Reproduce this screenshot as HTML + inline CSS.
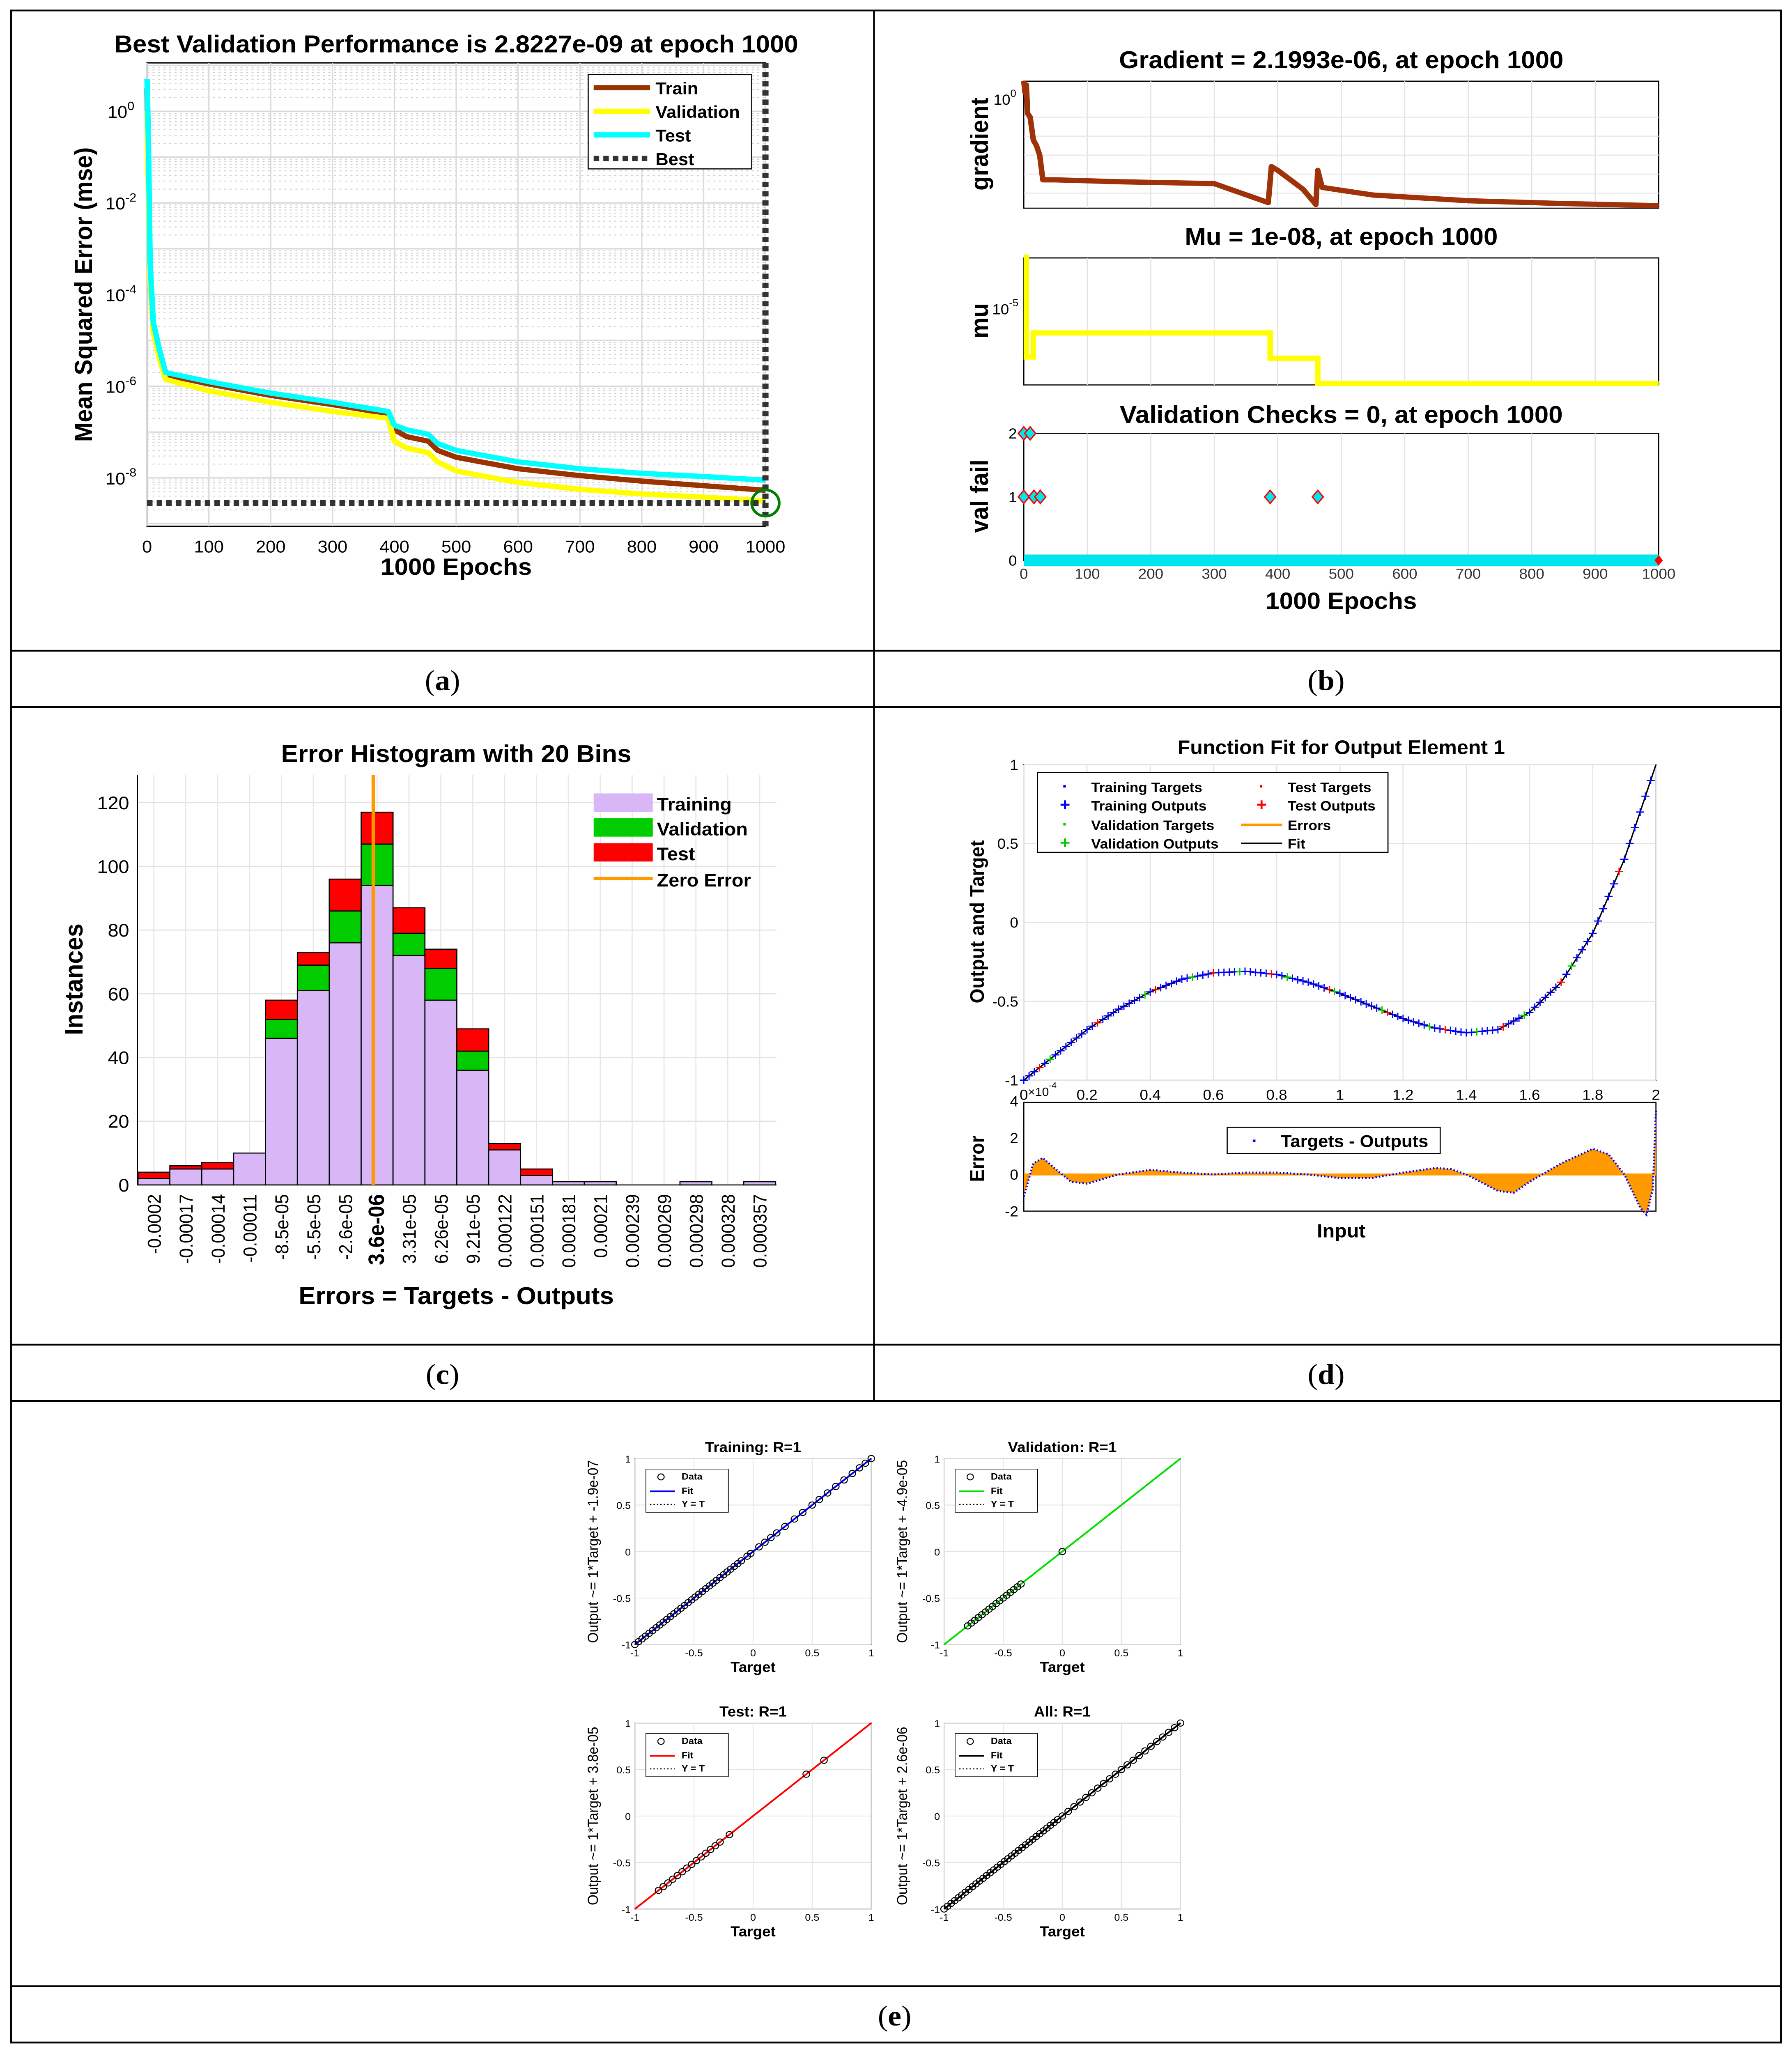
<!DOCTYPE html>
<html><head><meta charset="utf-8">
<style>
html,body{margin:0;padding:0;background:#fff;width:100vw;height:100vh;overflow:hidden;}
svg{display:block;position:absolute;left:0;top:0;width:100vw;height:100vh;font-family:"Liberation Sans",sans-serif;}
</style></head>
<body>
<svg id="root" xmlns="http://www.w3.org/2000/svg" viewBox="0 0 1304 1568" preserveAspectRatio="none">
<rect x="0" y="0" width="1304" height="1568" fill="#fff"/>
<g stroke="#000" stroke-width="1.3" fill="none">
<rect x="8" y="8" width="1288" height="1552"/>
<line x1="8" y1="497" x2="1296" y2="497"/><line x1="8" y1="540" x2="1296" y2="540"/>
<line x1="8" y1="1027" x2="1296" y2="1027"/><line x1="8" y1="1070" x2="1296" y2="1070"/>
<line x1="8" y1="1517" x2="1296" y2="1517"/><line x1="636" y1="8" x2="636" y2="1070"/>
</g>
<g font-family="Liberation Serif,serif" font-size="22" text-anchor="middle">
<text x="322" y="527">(<tspan font-weight="bold">a</tspan>)</text>
<text x="965" y="527">(<tspan font-weight="bold">b</tspan>)</text>
<text x="322" y="1057">(<tspan font-weight="bold">c</tspan>)</text>
<text x="965" y="1057">(<tspan font-weight="bold">d</tspan>)</text>
<text x="651" y="1547">(<tspan font-weight="bold">e</tspan>)</text>
</g>
</svg>
<script>
// ---------- DATA ----------
const perfEpochs = [0,2,5,10,20,30,100,200,300,390,400,420,455,470,500,600,700,800,900,1000];
const trainLog = [0.5,-1,-3.5,-4.7,-5.3,-5.75,-5.95,-6.2,-6.4,-6.6,-6.95,-7.1,-7.2,-7.4,-7.55,-7.8,-7.95,-8.07,-8.17,-8.27];
const valLog   = [0,-1.5,-3.7,-4.8,-5.4,-5.85,-6.1,-6.35,-6.55,-6.7,-7.2,-7.35,-7.45,-7.65,-7.85,-8.1,-8.25,-8.35,-8.42,-8.5];
const testLog  = [0.7,-0.5,-3.3,-4.6,-5.2,-5.7,-5.9,-6.15,-6.35,-6.55,-6.85,-6.95,-7.05,-7.25,-7.4,-7.65,-7.8,-7.9,-7.97,-8.05];
const bestLog = Math.log10(2.8227e-9);
const bestEpoch = 1000;
const gradEpochs = [0,2,4,6,10,15,20,25,30,50,150,300,385,390,400,440,460,463,470,550,700,850,1000];
const gradLog = [0.9,0.3,0.7,-0.8,-1,-2.2,-2.5,-3.0,-4.3,-4.3,-4.4,-4.5,-5.5,-3.6,-3.8,-4.8,-5.6,-3.8,-4.7,-5.1,-5.4,-5.55,-5.66];
const muEpochs = [0,4,4,15,15,388,388,463,463,1000];
const muLog = [-3,-3,-6.95,-6.95,-6,-6,-7,-7,-8,-8];
const failEpochs = [0,10,0,16,26,388,463];
const failVals = [2,2,1,1,1,1,1];
const binLabels = ['-0.0002','-0.00017','-0.00014','-0.00011','-8.5e-05','-5.5e-05','-2.6e-05','3.6e-06','3.31e-05','6.26e-05','9.21e-05','0.000122','0.000151','0.000181','0.00021','0.000239','0.000269','0.000298','0.000328','0.000357'];
const histTrain = [2,5,5,10,46,61,76,94,72,58,36,11,3,1,1,0,0,1,0,1];
const histVal   = [0,0,0,0,6,8,10,13,7,10,6,0,0,0,0,0,0,0,0,0];
const histTest  = [2,1,2,0,6,4,10,10,8,6,7,2,2,0,0,0,0,0,0,0];
const zeroBin = 6.88;
const fitX = [0,0.1,0.2,0.3,0.4,0.5,0.6,0.7,0.8,0.9,1.0,1.1,1.2,1.3,1.4,1.5,1.6,1.7,1.8,1.9,2.0];
const fitY = [-1,-0.84,-0.68,-0.55,-0.44,-0.36,-0.32,-0.31,-0.33,-0.38,-0.45,-0.53,-0.61,-0.67,-0.7,-0.68,-0.57,-0.38,-0.07,0.4,1.0];
const errX = [0,0.03,0.06,0.1,0.15,0.2,0.3,0.4,0.5,0.6,0.7,0.8,0.9,1.0,1.1,1.2,1.3,1.35,1.4,1.5,1.55,1.6,1.7,1.8,1.85,1.9,1.95,1.97,1.99,2.0];
const errY = [-1.2,0.6,0.9,0.3,-0.4,-0.5,0,0.25,0.1,0,0.1,0.1,0,-0.2,-0.2,0.1,0.35,0.3,0,-0.9,-1.0,-0.4,0.6,1.4,1.1,0,-1.8,-2.2,-0.8,3.5];
const trainT = [-1,-0.97,-0.94,-0.91,-0.88,-0.85,-0.82,-0.79,-0.76,-0.73,-0.7,-0.67,-0.64,-0.61,-0.58,-0.55,-0.52,-0.49,-0.46,-0.43,-0.4,-0.37,-0.34,-0.31,-0.28,-0.25,-0.22,-0.19,-0.16,-0.13,-0.1,-0.05,-0.02,0.05,0.1,0.15,0.2,0.27,0.35,0.42,0.5,0.56,0.63,0.7,0.77,0.84,0.9,0.95,1];
const valT = [-0.8,-0.77,-0.74,-0.71,-0.68,-0.65,-0.62,-0.59,-0.56,-0.53,-0.5,-0.47,-0.44,-0.41,-0.38,-0.35,0];
const testT = [-0.8,-0.76,-0.72,-0.68,-0.64,-0.6,-0.56,-0.52,-0.48,-0.44,-0.4,-0.36,-0.32,-0.28,-0.2,0.45,0.6];
const allT = [-1,-0.97,-0.94,-0.91,-0.88,-0.85,-0.82,-0.79,-0.76,-0.73,-0.7,-0.67,-0.64,-0.61,-0.58,-0.55,-0.52,-0.49,-0.46,-0.43,-0.4,-0.37,-0.34,-0.31,-0.28,-0.25,-0.22,-0.19,-0.16,-0.13,-0.1,-0.07,-0.04,0,0.05,0.1,0.15,0.2,0.25,0.3,0.35,0.4,0.45,0.5,0.55,0.6,0.65,0.7,0.75,0.8,0.85,0.9,0.95,1];
const regTicks = [-1,-0.5,0,0.5,1];
const regTickLabels = ['-1','-0.5','0','0.5','1'];

// ---------- HELPERS ----------
const NS='http://www.w3.org/2000/svg';
const root=document.getElementById('root');
function mk(tag,attrs,parent){const e=document.createElementNS(NS,tag);for(const k in attrs)e.setAttribute(k,attrs[k]);(parent||root).appendChild(e);return e;}
function txt(s,attrs,parent){const e=mk('text',attrs,parent);e.textContent=s;return e;}
function sup(base,exp,attrs,parent){const e=mk('text',attrs,parent);const a=mk('tspan',{},e);a.textContent=base;const b=mk('tspan',{dy:-6,'font-size':'0.7em'},e);b.textContent=exp;return e;}
function pts(xs,ys,fx,fy){return xs.map((v,i)=>fx(v).toFixed(2)+','+fy(ys[i]).toFixed(2)).join(' ');}

// ========== PANEL A ==========
const ga=mk('g',{});


const ax=e=>107+e*0.45, ay=l=>85-l*35;
const aBox=mk('rect',{x:107,y:48,width:450,height:354,fill:'#fff',stroke:'#000','stroke-width':1},ga);


for(let d=1;d>=-9;d--){for(let m=1;m<10;m++){const l=d+Math.log10(m);const y=ay(l);if(y<48||y>402)continue;
 const g=mk('line',{x1:107,x2:557,y1:y,y2:y,stroke:m===1?'#d8d8d8':'#cfcfcf','stroke-width':m===1?1:0.7,'stroke-dasharray':m===1?'':'1.5,2.5'},ga);
 
 }}
for(let e=0;e<=1000;e+=100){
 const g=mk('line',{x1:ax(e),x2:ax(e),y1:48,y2:402,stroke:'#dcdcdc','stroke-width':1},ga);
 
 
 const t=txt(String(e),{x:ax(e),y:422,'font-size':13,'text-anchor':'middle'},ga);
 
 }
for(let d=0;d>=-8;d-=2){
 const t=sup('10',String(d),{x:88,y:ay(d)+5,'font-size':13,'text-anchor':'middle'},ga);
 
 }
const ordered=[[trainLog,'#993300','train-line'],[valLog,'#ffff00','validation-line'],[testLog,'#00ffff','test-line']];
for(const s of ordered){
 const p=mk('polyline',{points:pts(perfEpochs,s[0],ax,ay),fill:'none',stroke:s[1],'stroke-width':4,'stroke-linejoin':'round'},ga);
 
 }
const bh=mk('line',{x1:107,x2:557,y1:ay(bestLog),y2:ay(bestLog),stroke:'#333','stroke-width':4.5,'stroke-dasharray':'4,3'},ga);


const bv=mk('line',{x1:ax(bestEpoch),x2:ax(bestEpoch),y1:48,y2:402,stroke:'#333','stroke-width':4.5,'stroke-dasharray':'4,3'},ga);


const bc=mk('circle',{cx:ax(bestEpoch),cy:ay(bestLog),r:10,fill:'none',stroke:'#008000','stroke-width':2},ga);


const at=txt('Best Validation Performance is 2.8227e-09 at epoch 1000',{x:332,y:40,'font-size':18.5,'font-weight':'bold','text-anchor':'middle'},ga);


const axl=txt('1000 Epochs',{x:332,y:439,'font-size':18,'font-weight':'bold','text-anchor':'middle'},ga);


const ayl=txt('Mean Squared Error  (mse)',{x:0,y:0,'font-size':18,'font-weight':'bold','text-anchor':'middle',transform:'translate(67,225) rotate(-90)'},ga);


const alb=mk('rect',{x:428,y:57,width:119,height:72,fill:'#fff',stroke:'#000','stroke-width':0.8},ga);


const legA=[['Train','#993300',''],['Validation','#ffff00',''],['Test','#00ffff',''],['Best','#333','4,3']];
legA.forEach((l,i)=>{const y=67+i*18;
 const ln=mk('line',{x1:432,x2:473,y1:y,y2:y,stroke:l[1],'stroke-width':4,'stroke-dasharray':l[2]},ga);
 
 
 const t=txt(l[0],{x:477,y:y+5,'font-size':13,'font-weight':'bold'},ga);
 
 });

// ========== PANEL B ==========
const gb=mk('g',{});


const bx=e=>745+e*0.462;
const gy=l=>75-l*14.5, my=l=>235+(-5-l)*19.3, fy=v=>428-v*48.5;
const subs=[[62,'Gradient = 2.1993e-06, at epoch 1000','gradient',45],[197,'Mu = 1e-08, at epoch 1000','mu',180],[331,'Validation Checks = 0, at epoch 1000','val fail',316]];
subs.forEach(s=>{
 const r=mk('rect',{x:745,y:s[0],width:462,height:97,fill:'#fff',stroke:'#000','stroke-width':0.8},gb);
 
 
 for(let e=100;e<1000;e+=100){const g=mk('line',{x1:bx(e),x2:bx(e),y1:s[0],y2:s[0]+97,stroke:'#e2e2e2','stroke-width':0.8},gb);
  
  }
 const t=txt(s[1],{x:976,y:s[3]+7,'font-size':18.5,'font-weight':'bold','text-anchor':'middle'},gb);
 
 
 const yl=txt(s[2],{x:0,y:0,'font-size':18,'font-weight':'bold','text-anchor':'middle',transform:`translate(719,${s[0]+48}) rotate(-90)`},gb);
 
 });
[-1,-2,-3,-4,-5].forEach(l=>{const g=mk('line',{x1:745,x2:1207,y1:gy(l),y2:gy(l),stroke:'#e6e6e6','stroke-width':0.8},gb);
 
 });
const g0=sup('10','0',{x:723,y:80,'font-size':11},gb);


const m5=sup('10','-5',{x:722,y:240,'font-size':11},gb);


const gl=mk('polyline',{points:pts(gradEpochs,gradLog,bx,gy),fill:'none',stroke:'#a0320a','stroke-width':4,'stroke-linejoin':'round'},gb);


const ml=mk('polyline',{points:pts(muEpochs,muLog,bx,my),fill:'none',stroke:'#ffff00','stroke-width':4},gb);


[0,1,2].forEach(v=>{const t=txt(String(v),{x:740,y:fy(v)+4,'font-size':11,'text-anchor':'end'},gb);
 
 });
const fz=mk('line',{x1:bx(0),x2:bx(1000),y1:fy(0),y2:fy(0),stroke:'#00e5ee','stroke-width':9},gb);


failEpochs.forEach((e,i)=>{const x=bx(e),y=fy(failVals[i]);
 const d=mk('polygon',{points:`${x},${y-5} ${x+4},${y} ${x},${y+5} ${x-4},${y}`,fill:'#00e5ee',stroke:'#ff0000','stroke-width':1},gb);
 
 });
const rd=mk('polygon',{points:`${bx(1000)},${fy(0)-4} ${bx(1000)+3},${fy(0)} ${bx(1000)},${fy(0)+4} ${bx(1000)-3},${fy(0)}`,fill:'#ff0000'},gb);


for(let e=0;e<=1000;e+=100){const t=txt(String(e),{x:bx(e),y:442,'font-size':11,'text-anchor':'middle',fill:'#333'},gb);
 
 }
const bxl=txt('1000 Epochs',{x:976,y:465,'font-size':18,'font-weight':'bold','text-anchor':'middle'},gb);



// ========== PANEL C ==========
const gc=mk('g',{});


const cx=i=>112+i*23.2, cy=v=>905-v*2.433;
const cbox=mk('rect',{x:100,y:592,width:465,height:313,fill:'#fff',stroke:'none'},gc);


for(let v=0;v<=120;v+=20){const g=mk('line',{x1:100,x2:565,y1:cy(v),y2:cy(v),stroke:'#e2e2e2','stroke-width':0.8},gc);
 
 
 const t=txt(String(v),{x:94,y:cy(v)+5,'font-size':14,'text-anchor':'end'},gc);
 
 }
binLabels.forEach((b,i)=>{const g=mk('line',{x1:cx(i),x2:cx(i),y1:592,y2:905,stroke:'#e6e6e6','stroke-width':0.8},gc);
 
 });
const cl=mk('polyline',{points:'100,592 100,905 565,905',fill:'none',stroke:'#000','stroke-width':0.8},gc);


binLabels.forEach((b,i)=>{const x0=cx(i)-11.6;
 const stack=[[histTrain[i],'#d9b7f7','bar-training'],[histVal[i],'#00cc00','bar-validation'],[histTest[i],'#ff0000','bar-test']];
 let base=0;
 stack.forEach(s=>{if(s[0]>0){const r=mk('rect',{x:x0,y:cy(base+s[0]),width:23.2,height:s[0]*2.433,fill:s[1],stroke:'#000','stroke-width':0.8},gc);
  
  }base+=s[0];});
 const bold=i===7;
 const t=txt(b,{x:0,y:0,'font-size':bold?16:13.5,'font-weight':bold?'bold':'normal','text-anchor':'end',transform:`translate(${cx(i)+5},912) rotate(-90)`},gc);
 
 });
const zl=mk('line',{x1:cx(zeroBin),x2:cx(zeroBin),y1:592,y2:905,stroke:'#ff9900','stroke-width':2.5},gc);


const ct=txt('Error Histogram with 20 Bins',{x:332,y:582,'font-size':18.5,'font-weight':'bold','text-anchor':'middle'},gc);


const cxl=txt('Errors = Targets - Outputs',{x:332,y:996,'font-size':18.5,'font-weight':'bold','text-anchor':'middle'},gc);


const cyl=txt('Instances',{x:0,y:0,'font-size':18.5,'font-weight':'bold','text-anchor':'middle',transform:'translate(60,748) rotate(-90)'},gc);


const legC=[['Training','#d9b7f7'],['Validation','#00cc00'],['Test','#ff0000']];
legC.forEach((l,i)=>{const y=613+i*19;
 const r=mk('rect',{x:432,y:y-7,width:43,height:14,fill:l[1]},gc);
 
 
 const t=txt(l[0],{x:478,y:y+6,'font-size':14,'font-weight':'bold'},gc);
 
 });
const zs=mk('line',{x1:432,x2:475,y1:671,y2:671,stroke:'#ff9900','stroke-width':2.5},gc);


const zt=txt('Zero Error',{x:478,y:677,'font-size':14,'font-weight':'bold'},gc);



// ========== PANEL D ==========
const gd=mk('g',{});


const dx=v=>745+v*230, dy=v=>704.5-v*120.5, ey=v=>897-v*14;
const dbox=mk('rect',{x:745,y:584,width:460,height:241,fill:'#fff',stroke:'#000','stroke-width':0.8},gd);


for(let i=0;i<=10;i++){const v=i*0.2;
 const g=mk('line',{x1:dx(v),x2:dx(v),y1:584,y2:825,stroke:'#e4e4e4','stroke-width':0.8},gd);
 
 
 const g2=mk('line',{x1:dx(v),x2:dx(v),y1:842,y2:925,stroke:'#e4e4e4','stroke-width':0.8},gd);
 
 
 const lbl=i===0?'0':(i%5===0?String(v):v.toFixed(1));
 const t=txt(lbl,{x:dx(v),y:840,'font-size':11,'text-anchor':'middle'},gd);
 
 }
[1,0.5,0,-0.5,-1].forEach(v=>{const g=mk('line',{x1:745,x2:1205,y1:dy(v),y2:dy(v),stroke:'#e4e4e4','stroke-width':0.8},gd);
 
 
 const t=txt(String(v),{x:741,y:dy(v)+4,'font-size':11,'text-anchor':'end'},gd);
 
 });
const fitLine=mk('polyline',{points:pts(fitX,fitY,dx,dy),fill:'none',stroke:'#000','stroke-width':1},gd);


for(let i=0;i<fitX.length-1;i++){for(let k=0;k<6;k++){const f=k/6;const xv=fitX[i]+(fitX[i+1]-fitX[i])*f;const yv=fitY[i]+(fitY[i+1]-fitY[i])*f;
 const col=((i*6+k)%11===3)?'#ff0000':(((i*6+k)%9===5)?'#00cc00':'#0000ff');
 const m=txt('+',{x:dx(xv),y:dy(yv)+4,'font-size':12,'text-anchor':'middle',fill:col},gd);
 
 }}
const dlb=mk('rect',{x:755,y:590,width:255,height:61,fill:'#fff',stroke:'#000','stroke-width':0.8},gd);


const legD=[['·','#0000ff','Training Targets',775,601],['+','#0000ff','Training Outputs',775,615],['·','#00cc00','Validation Targets',775,630],['+','#00cc00','Validation Outputs',775,644],['·','#ff0000','Test Targets',918,601],['+','#ff0000','Test Outputs',918,615]];
legD.forEach(l=>{const m=txt(l[0],{x:l[3],y:l[4]+4,'font-size':13,'font-weight':'bold','text-anchor':'middle',fill:l[1]},gd);
 
 
 const t=txt(l[2],{x:l[3]+19,y:l[4]+4,'font-size':10.5,'font-weight':'bold'},gd);
 
 });
const le1=mk('line',{x1:903,x2:933,y1:630,y2:630,stroke:'#ff9900','stroke-width':2},gd);


const le1t=txt('Errors',{x:937,y:634,'font-size':10.5,'font-weight':'bold'},gd);


const le2=mk('line',{x1:903,x2:933,y1:644,y2:644,stroke:'#000','stroke-width':1},gd);


const le2t=txt('Fit',{x:937,y:648,'font-size':10.5,'font-weight':'bold'},gd);


const dt=txt('Function Fit for Output Element 1',{x:976,y:576,'font-size':15,'font-weight':'bold','text-anchor':'middle'},gd);


const dyl=txt('Output and Target',{x:0,y:0,'font-size':14.5,'font-weight':'bold','text-anchor':'middle',transform:'translate(716,704) rotate(-90)'},gd);


const sc=sup('×10','-4',{x:748,y:837,'font-size':9},gd);


const ebox=mk('rect',{x:745,y:842,width:460,height:83,fill:'#fff',stroke:'#000','stroke-width':0.8},gd);


[4,2,0,-2].forEach(v=>{const t=txt(String(v),{x:741,y:ey(v)+4,'font-size':11,'text-anchor':'end'},gd);
 
 });
const ef=mk('polygon',{points:dx(0)+','+ey(0)+' '+pts(errX,errY,dx,ey)+' '+dx(2)+','+ey(0),fill:'#ff9900',stroke:'none'},gd);


const ez=mk('line',{x1:745,x2:1205,y1:ey(0),y2:ey(0),stroke:'#ff9900','stroke-width':1.5},gd);


const el=mk('polyline',{points:pts(errX,errY,dx,ey),fill:'none',stroke:'#0000ff','stroke-width':1.5,'stroke-dasharray':'1,1.5'},gd);


const elb=mk('rect',{x:893,y:861,width:155,height:20,fill:'#fff',stroke:'#000','stroke-width':0.8},gd);


const eld=txt('·',{x:913,y:876,'font-size':14,'font-weight':'bold',fill:'#0000ff','text-anchor':'middle'},gd);


const elt=txt('Targets - Outputs',{x:932,y:876,'font-size':13,'font-weight':'bold'},gd);


const eyl=txt('Error',{x:0,y:0,'font-size':14.5,'font-weight':'bold','text-anchor':'middle',transform:'translate(716,885) rotate(-90)'},gd);


const exl=txt('Input',{x:976,y:945,'font-size':14.5,'font-weight':'bold','text-anchor':'middle'},gd);



// ========== PANEL E ==========
const regs=[[462,1114,'Training: R=1','Output ~= 1*Target + -1.9e-07','#0000ff',trainT,'training-regression'],
 [687,1114,'Validation: R=1','Output ~= 1*Target + -4.9e-05','#00dd00',valT,'validation-regression'],
 [462,1316,'Test: R=1','Output ~= 1*Target + 3.8e-05','#ff0000',testT,'test-regression'],
 [687,1316,'All: R=1','Output ~= 1*Target + 2.6e-06','#000000',allT,'all-regression']];
regs.forEach(r=>{
 const g=mk('g',{});
 
 
 const X0=r[0],Y0=r[1],W=172,H=142;
 const rx=v=>X0+(v+1)/2*W, ry=v=>Y0+H-(v+1)/2*H;
 const b=mk('rect',{x:X0,y:Y0,width:W,height:H,fill:'#fff',stroke:'#000','stroke-width':0.6},g);
 
 
 regTicks.forEach((v,i)=>{
  const gx=mk('line',{x1:rx(v),x2:rx(v),y1:Y0,y2:Y0+H,stroke:'#e2e2e2','stroke-width':0.6},g);
  
  
  const gy2=mk('line',{x1:X0,x2:X0+W,y1:ry(v),y2:ry(v),stroke:'#e2e2e2','stroke-width':0.6},g);
  
  
  const tx=txt(regTickLabels[i],{x:rx(v),y:Y0+H+9,'font-size':7.5,'text-anchor':'middle'},g);
  
  
  const ty=txt(regTickLabels[i],{x:X0-3,y:ry(v)+3,'font-size':7.5,'text-anchor':'end'},g);
  
  });
 const yt=mk('line',{x1:rx(-1),y1:ry(-1),x2:rx(1),y2:ry(1),stroke:'#000','stroke-width':0.8,'stroke-dasharray':'1,1.5'},g);
 
 
 const fl=mk('line',{x1:rx(-1),y1:ry(-1),x2:rx(1),y2:ry(1),stroke:r[4],'stroke-width':1.3},g);
 
 
 r[5].forEach(t=>{const c=mk('circle',{cx:rx(t),cy:ry(t),r:2.4,fill:'none',stroke:'#000','stroke-width':0.7},g);
  
  });
 const lb=mk('rect',{x:X0+8,y:Y0+8,width:60,height:33,fill:'#fff',stroke:'#000','stroke-width':0.5},g);
 
 
 const lc=mk('circle',{cx:X0+19,cy:Y0+14,r:2.3,fill:'none',stroke:'#000','stroke-width':0.7},g);
 
 
 const l2=mk('line',{x1:X0+11,x2:X0+29,y1:Y0+25,y2:Y0+25,stroke:r[4],'stroke-width':1.3},g);
 
 
 const l3=mk('line',{x1:X0+11,x2:X0+29,y1:Y0+35,y2:Y0+35,stroke:'#000','stroke-width':0.8,'stroke-dasharray':'1,1.5'},g);
 
 
 [['Data',16],['Fit',27],['Y = T',37]].forEach(e=>{const t=txt(e[0],{x:X0+34,y:Y0+e[1],'font-size':7,'font-weight':'bold'},g);
  
  });
 const tt=txt(r[2],{x:X0+W/2,y:Y0-5,'font-size':11,'font-weight':'bold','text-anchor':'middle'},g);
 
 
 const xl=txt('Target',{x:X0+W/2,y:Y0+H+21,'font-size':11,'font-weight':'bold','text-anchor':'middle'},g);
 
 
 const yl=txt(r[3],{x:0,y:0,'font-size':10.5,'text-anchor':'middle',transform:`translate(${X0-27},${Y0+H/2}) rotate(-90)`},g);
 
 
});
</script>
</body></html>
